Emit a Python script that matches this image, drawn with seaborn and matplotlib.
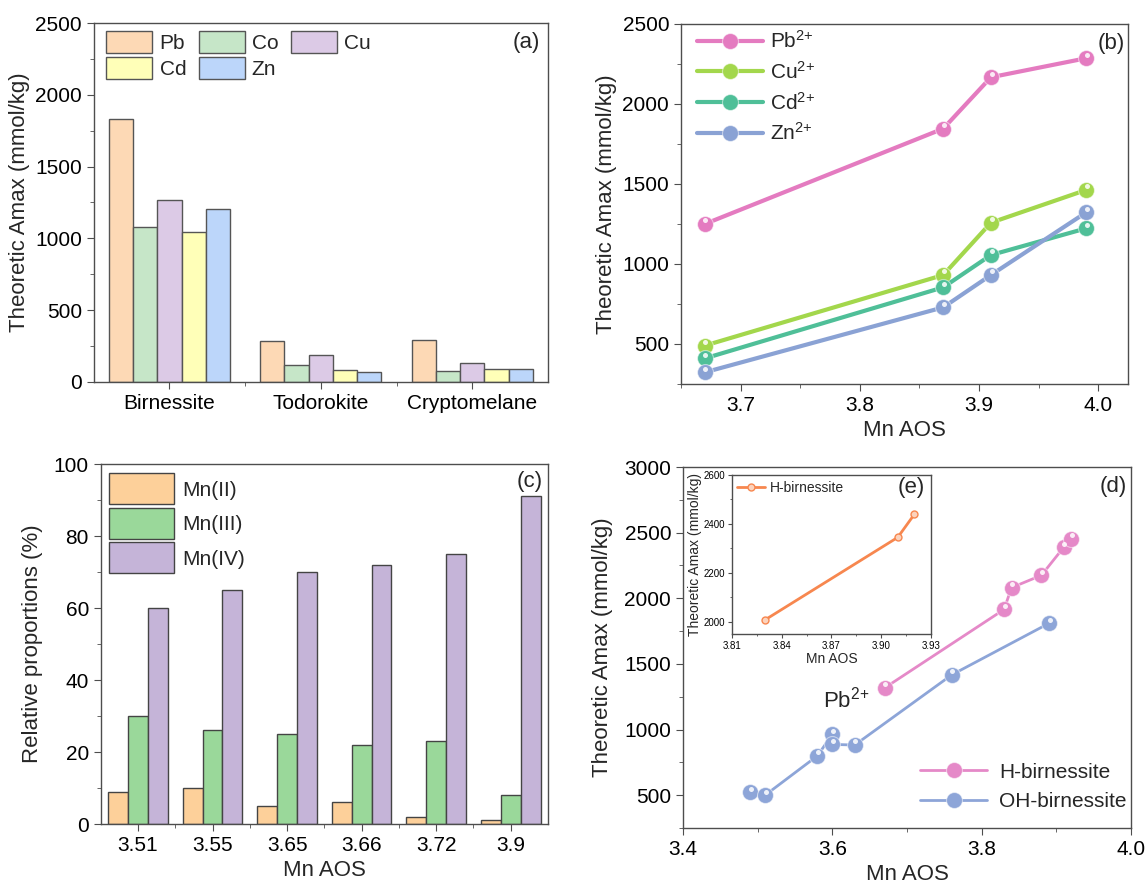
import numpy as np
import pandas as pd
import matplotlib
matplotlib.use('Agg')
import matplotlib.pyplot as plt
from matplotlib.ticker import MultipleLocator, FixedLocator
from matplotlib.transforms import offset_copy
import seaborn as sns

# --- (a) theoretic Amax for three Mn oxides ---
minerals = ['Birnessite', 'Todorokite', 'Cryptomelane']
metals_a = ['Pb', 'Co', 'Cu', 'Cd', 'Zn']
amax_pb = [1833, 285, 292]
amax_co = [1082, 116, 76]
amax_cu = [1267, 190, 132]
amax_cd = [1043, 86, 90]
amax_zn = [1207, 67, 90]
colors_a = ['#fdd9b5', '#c6e6c8', '#dccae6', '#ffffb8', '#bcd6fa']

# --- (b) Amax vs Mn AOS ---
aos_b = [3.67, 3.87, 3.91, 3.99]
ions_b = ['Pb$^{2{+}}$', 'Cu$^{2{+}}$', 'Cd$^{2{+}}$', 'Zn$^{2{+}}$']
amax_b_pb = [1250, 1846, 2167, 2286]
amax_b_cu = [490, 931, 1258, 1463]
amax_b_cd = [410, 854, 1056, 1223]
amax_b_zn = [323, 729, 931, 1323]
colors_b = ['#e47bc0', '#a3d74c', '#4fbf98', '#8aa2d4']

# --- (c) Mn valence proportions ---
aos_c = ['3.51', '3.55', '3.65', '3.66', '3.72', '3.9']
valences = ['Mn(II)', 'Mn(III)', 'Mn(IV)']
prop_mn2 = [9, 10, 5, 6, 2, 1]
prop_mn3 = [30, 26, 25, 22, 23, 8]
prop_mn4 = [60, 65, 70, 72, 75, 91]
colors_c = ['#fdd09a', '#9ad89a', '#c5b4d8']

# --- (d) Pb2+ on H- and OH-birnessite ---
h_aos = [3.67, 3.83, 3.84, 3.88, 3.91, 3.92]
h_amax = [1317, 1915, 2081, 2175, 2389, 2453]
oh_aos = [3.49, 3.51, 3.58, 3.60, 3.60, 3.63, 3.76, 3.89]
oh_amax = [523, 500, 800, 963, 887, 882, 1417, 1809]
colors_d = ['#e589c8', '#8da5d8']

# --- (e) inset ---
e_aos = [3.83, 3.91, 3.92]
e_amax = [2008, 2345, 2439]
color_e = '#f7874f'

sns.set_style('ticks')
plt.rcParams['font.family'] = ['Liberation Sans', 'DejaVu Sans']
plt.rcParams['mathtext.default'] = 'regular'
plt.rcParams['axes.edgecolor'] = '#4d4d4d'
plt.rcParams['axes.linewidth'] = 1.0
plt.rcParams['xtick.color'] = '#4d4d4d'
plt.rcParams['ytick.color'] = '#4d4d4d'
plt.rcParams['xtick.labelcolor'] = 'black'
plt.rcParams['ytick.labelcolor'] = 'black'
plt.rcParams['xtick.major.size'] = 5
plt.rcParams['ytick.major.size'] = 5
plt.rcParams['xtick.minor.size'] = 3
plt.rcParams['ytick.minor.size'] = 3

TICK = 15
LAB = 16

fig = plt.figure(figsize=(11.46, 8.85), dpi=100)
ax_a = fig.add_axes([0.0818, 0.5684, 0.3963, 0.4056])
ax_b = fig.add_axes([0.5942, 0.5661, 0.3901, 0.4068])
ax_c = fig.add_axes([0.0879, 0.0689, 0.3903, 0.4068])
ax_d = fig.add_axes([0.5960, 0.0644, 0.3909, 0.4079])
ax_e = fig.add_axes([0.6387, 0.2836, 0.1736, 0.1797])


def style_axes(ax, fs=TICK):
    for s in ax.spines.values():
        s.set_visible(True)
        s.set_color('#4d4d4d')
    ax.tick_params(which='both', direction='out', top=False, right=False, labelsize=fs)


def add_shine(ax, x, y):
    # small white spot on each sphere marker
    tr = offset_copy(ax.transData, fig=fig, x=0.5, y=2.6, units='points')
    ax.plot(x, y, ls='none', marker='o', ms=3.6, mfc='white', mec='none',
            alpha=0.85, transform=tr)


# ---------- (a) ----------
df_a = pd.DataFrame({
    'mineral': minerals * 5,
    'metal': np.repeat(metals_a, len(minerals)),
    'amax': amax_pb + amax_co + amax_cu + amax_cd + amax_zn,
})
sns.barplot(data=df_a, x='mineral', y='amax', hue='metal', hue_order=metals_a,
            palette=colors_a, saturation=1, edgecolor='#555555', linewidth=1,
            ax=ax_a, legend=False)
ax_a.set_ylim(0, 2500)
ax_a.set_xlim(-0.5, 2.5)
ax_a.yaxis.set_major_locator(MultipleLocator(500))
ax_a.yaxis.set_minor_locator(MultipleLocator(250))
ax_a.xaxis.set_minor_locator(FixedLocator([0.5, 1.5]))
ax_a.set_xlabel('')
ax_a.set_ylabel('Theoretic Amax (mmol/kg)', fontsize=LAB)
style_axes(ax_a)
order = [0, 3, 1, 4, 2]
ax_a.legend([ax_a.containers[i] for i in order], [metals_a[i] for i in order],
            ncol=3, loc='upper left', bbox_to_anchor=(0.028, 0.979), frameon=False,
            fontsize=TICK, handlelength=2.2, handleheight=1.25, handletextpad=0.35,
            columnspacing=0.6, labelspacing=0.19, borderpad=0, borderaxespad=0)
ax_a.text(0.982, 0.947, '(a)', transform=ax_a.transAxes, ha='right', va='center', fontsize=LAB)

# ---------- (b) ----------
df_b = pd.DataFrame({
    'aos': aos_b * 4,
    'ion': np.repeat(ions_b, len(aos_b)),
    'amax': amax_b_pb + amax_b_cu + amax_b_cd + amax_b_zn,
})
sns.lineplot(data=df_b, x='aos', y='amax', hue='ion', hue_order=ions_b,
             palette=dict(zip(ions_b, colors_b)), estimator=None, sort=False,
             marker='o', markersize=11.5, linewidth=3, markeredgewidth=0.8,
             markeredgecolor='#ffffff80', ax=ax_b, legend=False)
lines_b = list(ax_b.get_lines())
for ion in ions_b:
    sub = df_b[df_b['ion'] == ion]
    add_shine(ax_b, sub['aos'], sub['amax'])
ax_b.set_xlim(3.65, 4.025)
ax_b.set_ylim(250, 2500)
ax_b.xaxis.set_major_locator(MultipleLocator(0.1))
ax_b.xaxis.set_minor_locator(MultipleLocator(0.05))
ax_b.yaxis.set_major_locator(FixedLocator([500, 1000, 1500, 2000, 2500]))
ax_b.yaxis.set_minor_locator(MultipleLocator(250))
ax_b.set_xlabel('Mn AOS', fontsize=LAB)
ax_b.set_ylabel('Theoretic Amax (mmol/kg)', fontsize=LAB)
style_axes(ax_b)
ax_b.legend(lines_b, ions_b, loc='upper left', bbox_to_anchor=(0.035, 0.983),
            frameon=False, fontsize=TICK, handlelength=3.2, handletextpad=0.3,
            labelspacing=0.42, borderpad=0, borderaxespad=0)
ax_b.text(0.993, 0.947, '(b)', transform=ax_b.transAxes, ha='right', va='center', fontsize=LAB)

# ---------- (c) ----------
df_c = pd.DataFrame({
    'aos': aos_c * 3,
    'valence': np.repeat(valences, len(aos_c)),
    'prop': prop_mn2 + prop_mn3 + prop_mn4,
})
sns.barplot(data=df_c, x='aos', y='prop', hue='valence', hue_order=valences,
            palette=colors_c, saturation=1, edgecolor='#444444', linewidth=1,
            ax=ax_c, legend=False)
ax_c.set_ylim(0, 100)
ax_c.set_xlim(-0.5, 5.5)
ax_c.yaxis.set_major_locator(MultipleLocator(20))
ax_c.yaxis.set_minor_locator(MultipleLocator(10))
ax_c.xaxis.set_minor_locator(FixedLocator([0.5, 1.5, 2.5, 3.5, 4.5]))
ax_c.set_xlabel('Mn AOS', fontsize=LAB)
ax_c.set_ylabel('Relative proportions (%)', fontsize=LAB, labelpad=8)
style_axes(ax_c)
ax_c.legend(ax_c.containers, valences, loc='upper left', bbox_to_anchor=(0.0186, 0.974),
            frameon=False, fontsize=TICK, handlelength=3.1, handleheight=1.91,
            handletextpad=0.4, labelspacing=0.17, borderpad=0, borderaxespad=0)
ax_c.text(0.988, 0.951, '(c)', transform=ax_c.transAxes, ha='right', va='center', fontsize=LAB)

# ---------- (d) ----------
df_d = pd.DataFrame({
    'aos': h_aos + oh_aos,
    'amax': h_amax + oh_amax,
    'sample': ['H-birnessite'] * len(h_aos) + ['OH-birnessite'] * len(oh_aos),
})
samples = ['H-birnessite', 'OH-birnessite']
sns.lineplot(data=df_d, x='aos', y='amax', hue='sample', hue_order=samples,
             palette=dict(zip(samples, colors_d)), estimator=None, sort=False,
             marker='o', markersize=11.5, linewidth=2, markeredgewidth=0.8,
             markeredgecolor='#ffffff80', ax=ax_d, legend=False)
lines_d = list(ax_d.get_lines())
for smp in samples:
    sub = df_d[df_d['sample'] == smp]
    add_shine(ax_d, sub['aos'], sub['amax'])
ax_d.set_xlim(3.4, 4.0)
ax_d.set_ylim(250, 3000)
ax_d.xaxis.set_major_locator(MultipleLocator(0.2))
ax_d.xaxis.set_minor_locator(MultipleLocator(0.1))
ax_d.yaxis.set_major_locator(FixedLocator([500, 1000, 1500, 2000, 2500, 3000]))
ax_d.yaxis.set_minor_locator(MultipleLocator(250))
ax_d.set_xlabel('Mn AOS', fontsize=LAB)
ax_d.set_ylabel('Theoretic Amax (mmol/kg)', fontsize=LAB, labelpad=8)
style_axes(ax_d)
ax_d.legend(lines_d, samples, loc='lower right', bbox_to_anchor=(0.991, 0.047),
            frameon=False, fontsize=TICK, handlelength=3.2, handletextpad=0.6,
            labelspacing=0.5, borderpad=0, borderaxespad=0)
ax_d.text(0.990, 0.945, '(d)', transform=ax_d.transAxes, ha='right', va='center', fontsize=LAB)
ax_d.text(3.588, 1225, 'Pb$^{2{+}}$', ha='left', va='center', fontsize=LAB)

# ---------- (e) inset ----------
df_e = pd.DataFrame({'aos': e_aos, 'amax': e_amax})
sns.lineplot(data=df_e, x='aos', y='amax', color=color_e, estimator=None, sort=False,
             marker='o', markersize=5, linewidth=2, markerfacecolor='#fcd3bd',
             markeredgecolor=color_e, markeredgewidth=1, ax=ax_e, legend=False)
ax_e.set_xlim(3.81, 3.93)
ax_e.set_ylim(1950, 2600)
ax_e.xaxis.set_major_locator(FixedLocator([3.81, 3.84, 3.87, 3.90, 3.93]))
ax_e.xaxis.set_minor_locator(FixedLocator([3.825, 3.855, 3.885, 3.915]))
ax_e.set_xticklabels(['3.81', '3.84', '3.87', '3.90', '3.93'])
ax_e.yaxis.set_major_locator(FixedLocator([2000, 2200, 2400, 2600]))
ax_e.yaxis.set_minor_locator(FixedLocator([2100, 2300, 2500]))
ax_e.set_xlabel('Mn AOS', fontsize=10, labelpad=1)
ax_e.set_ylabel('Theoretic Amax (mmol/kg)', fontsize=10, labelpad=1)
style_axes(ax_e, fs=7)
ax_e.tick_params(which='major', length=3, pad=2)
ax_e.tick_params(which='minor', length=1.5)
ax_e.legend(ax_e.get_lines()[:1], ['H-birnessite'], loc='upper left',
            bbox_to_anchor=(0.024, 0.962), frameon=False, fontsize=10,
            handlelength=2.0, handletextpad=0.4, borderpad=0, borderaxespad=0)
ax_e.text(0.97, 0.923, '(e)', transform=ax_e.transAxes, ha='right', va='center', fontsize=LAB)

fig.savefig('out.png', dpi=100)
